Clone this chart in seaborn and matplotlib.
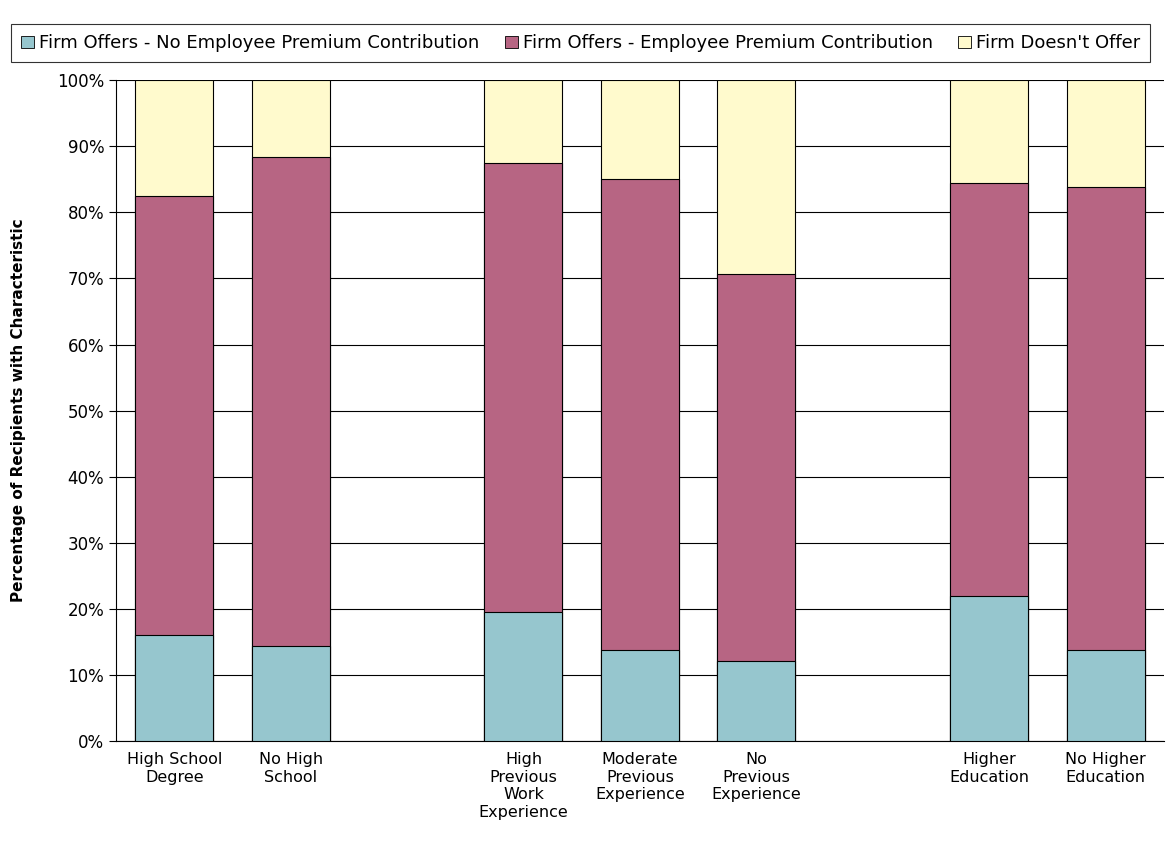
import numpy as np
import pandas as pd
import matplotlib
matplotlib.use('Agg')
import matplotlib.pyplot as plt
from matplotlib.patches import Patch
import seaborn as sns

categories = ['High School\nDegree', 'No High\nSchool', ' ',
              'High\nPrevious\nWork\nExperience', 'Moderate\nPrevious\nExperience',
              'No\nPrevious\nExperience', '  ',
              'Higher\nEducation', 'No Higher\nEducation']
no_contrib = [16.0, 14.4, np.nan, 19.5, 13.8, 12.1, np.nan, 22.0, 13.8]
with_contrib = [66.5, 73.9, np.nan, 68.0, 71.2, 58.6, np.nan, 62.4, 70.0]
doesnt_offer = [17.5, 11.7, np.nan, 12.5, 15.0, 29.3, np.nan, 15.6, 16.2]
series = ['Firm Offers - No Employee Premium Contribution',
          'Firm Offers - Employee Premium Contribution',
          "Firm Doesn't Offer"]
colors = ['#96C6CE', '#B76583', '#FFFACD']

sns.set_style('white')
plt.rcParams['font.family'] = ['DejaVu Sans']
plt.rcParams['text.color'] = 'black'
plt.rcParams['xtick.color'] = 'black'
plt.rcParams['ytick.color'] = 'black'
plt.rcParams['axes.labelcolor'] = 'black'

df = pd.DataFrame({'cat': categories, 'a': no_contrib, 'b': with_contrib, 'c': doesnt_offer})
df['t1'] = df['a']
df['t2'] = df['a'] + df['b']
df['t3'] = df['t2'] + df['c']

fig = plt.figure(figsize=(11.72, 8.52), dpi=100)
ax = fig.add_axes([0.099, 0.130, 0.894, 0.776])
for col, c in zip(['t3', 't2', 't1'], colors[::-1]):
    sns.barplot(data=df, x='cat', y=col, order=categories, color=c, ax=ax,
                width=0.67, edgecolor='black', linewidth=0.8, saturation=1, zorder=3)

ax.set_ylim(0, 100)
ax.set_xlim(-0.5, len(categories) - 0.5)
ax.set_yticks(np.arange(0, 101, 10))
ax.set_yticklabels([f'{v}%' for v in range(0, 101, 10)], fontsize=12)
ax.yaxis.grid(True, color='black', linewidth=0.8, zorder=0)
ax.set_axisbelow(True)
ax.set_xticks(range(len(categories)))
ax.set_xticklabels(categories, fontsize=11.5)
ax.set_xticks(np.arange(-0.5, len(categories)), minor=True)
ax.tick_params(axis='x', which='major', length=0, pad=8)
ax.tick_params(axis='x', which='minor', length=5, color='black', direction='out')
ax.tick_params(axis='y', length=5, color='black', direction='out', left=True)
ax.set_xlabel('')
ax.set_ylabel('Percentage of Recipients with Characteristic', fontsize=11,
              fontweight='bold', labelpad=22)
for side in ['top', 'right']:
    ax.spines[side].set_visible(False)
for side in ['left', 'bottom']:
    ax.spines[side].set_color('black')

handles = [Patch(facecolor=c, edgecolor='black', linewidth=0.6) for c in colors]
leg = fig.legend(handles, series, loc='upper left', bbox_to_anchor=(0.002, 0.982),
                 ncol=3, fontsize=13, frameon=True, fancybox=False,
                 handlelength=0.7, handleheight=0.7, handletextpad=0.3,
                 columnspacing=1.4, borderpad=0.55)
leg.get_frame().set_edgecolor('black')
leg.get_frame().set_linewidth(0.8)

fig.savefig('out.png', dpi=100)
